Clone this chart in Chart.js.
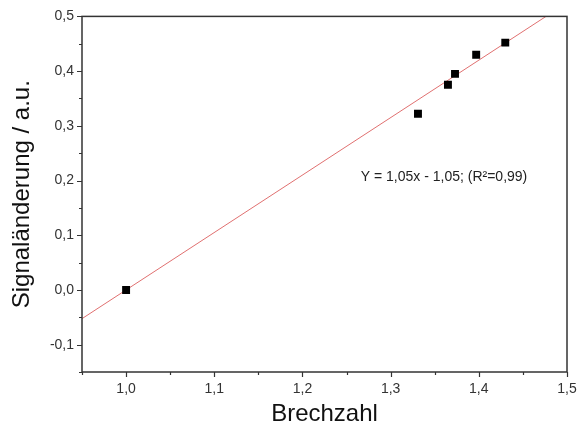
<!DOCTYPE html>
<html>
<head>
<meta charset="utf-8">
<style>
  html, body { margin: 0; padding: 0; background: #fff; }
  #wrap { width: 579px; height: 426px; }
</style>
<script src="https://cdn.jsdelivr.net/npm/chart.js@4/dist/chart.umd.min.js"></script>
</head>
<body>
<div id="wrap"><canvas id="chart" width="579" height="426"></canvas></div>
<script>
// Messpunkte
const brechzahl = [1.0, 1.331, 1.365, 1.373, 1.397, 1.43];
const signal = [0.0, 0.322, 0.375, 0.395, 0.43, 0.452];

// Ausgleichsgerade (Endpunkte)
const fitX = [0.95, 1.5];
const fitY = [-0.0525, 0.525];

const fitText = "Y = 1,05x - 1,05; (R²=0,99)";
const fitTextPos = { x: 1.3605, y: 0.207 };

const xTicks = [1.0, 1.1, 1.2, 1.3, 1.4, 1.5];
const yTicks = [-0.1, 0.0, 0.1, 0.2, 0.3, 0.4, 0.5];

const axisColor = "#333";
const fontFamily = "'Liberation Sans', Arial, sans-serif";

const fmt = (v) => v.toFixed(1).replace(".", ",");

// Rahmen + Haupt/Nebenstriche
const framePlugin = {
  id: "frame",
  afterDraw(chart) {
    const { ctx, chartArea: a, scales } = chart;
    ctx.save();
    ctx.strokeStyle = axisColor;
    ctx.lineWidth = 1.5;
    ctx.strokeRect(a.left, a.top, a.right - a.left, a.bottom - a.top);

    ctx.lineWidth = 1.2;
    ctx.beginPath();
    for (let v = 0.95; v <= 1.5001; v += 0.05) {
      const px = Math.round(scales.x.getPixelForValue(v)) + 0.5;
      const major = Math.abs(v * 10 - Math.round(v * 10)) < 0.01;
      ctx.moveTo(px, a.bottom);
      ctx.lineTo(px, a.bottom + (major ? 5 : 3));
    }
    for (let v = -0.15; v <= 0.5001; v += 0.05) {
      const py = Math.round(scales.y.getPixelForValue(v)) + 0.5;
      const major = Math.abs(v * 10 - Math.round(v * 10)) < 0.01;
      ctx.moveTo(a.left, py);
      ctx.lineTo(a.left - (major ? 5 : 3), py);
    }
    ctx.stroke();

    // Geradengleichung
    ctx.fillStyle = "#222";
    ctx.font = "14px " + fontFamily;
    ctx.textAlign = "center";
    ctx.textBaseline = "middle";
    ctx.fillText(
      fitText,
      scales.x.getPixelForValue(fitTextPos.x),
      scales.y.getPixelForValue(fitTextPos.y)
    );
    ctx.restore();
  },
};

const ctx = document.getElementById("chart").getContext("2d");
const chart = new Chart(ctx, {
  type: "scatter",
  data: {
    datasets: [
      {
        label: "Fit",
        data: fitX.map((x, i) => ({ x: x, y: fitY[i] })),
        showLine: true,
        borderColor: "#e07070",
        borderWidth: 1,
        pointRadius: 0,
        order: 2,
      },
      {
        label: "Messung",
        data: brechzahl.map((x, i) => ({ x: x, y: signal[i] })),
        pointStyle: "rect",
        pointRadius: 5.6,
        backgroundColor: "#000",
        borderColor: "#000",
        borderWidth: 0,
        order: 1,
      },
    ],
  },
  options: {
    responsive: false,
    animation: false,
    layout: { padding: { left: 0, right: 12, top: 15, bottom: 0 } },
    plugins: { legend: { display: false }, tooltip: { enabled: false } },
    scales: {
      x: {
        type: "linear",
        min: 0.95,
        max: 1.5,
        afterBuildTicks: (s) => { s.ticks = xTicks.map((v) => ({ value: v })); },
        afterFit: (s) => {
          s.height = 54;
          s.paddingLeft = 0;
          s.paddingRight = 0;
        },
        grid: { display: false, drawTicks: false },
        border: { display: false },
        ticks: {
          padding: 9,
          color: "#333",
          font: { size: 14, family: fontFamily },
          callback: (v) => fmt(v),
          maxRotation: 0,
        },
        title: {
          display: true,
          text: "Brechzahl",
          color: "#111",
          font: { size: 24, family: fontFamily, lineHeight: 1 },
          padding: { top: 0, bottom: 0 },
        },
      },
      y: {
        type: "linear",
        min: -0.15,
        max: 0.5,
        afterBuildTicks: (s) => { s.ticks = yTicks.map((v) => ({ value: v })); },
        afterFit: (s) => { s.width = 82; },
        grid: { display: false, drawTicks: false },
        border: { display: false },
        ticks: {
          padding: 8,
          color: "#333",
          font: { size: 14, family: fontFamily },
          callback: (v) => fmt(v),
        },
        title: {
          display: true,
          text: "Signaländerung / a.u.",
          color: "#111",
          font: { size: 24, family: fontFamily, lineHeight: 1 },
          padding: { top: 10, bottom: 10 },
        },
      },
    },
  },
  plugins: [framePlugin],
});
</script>
</body>
</html>
